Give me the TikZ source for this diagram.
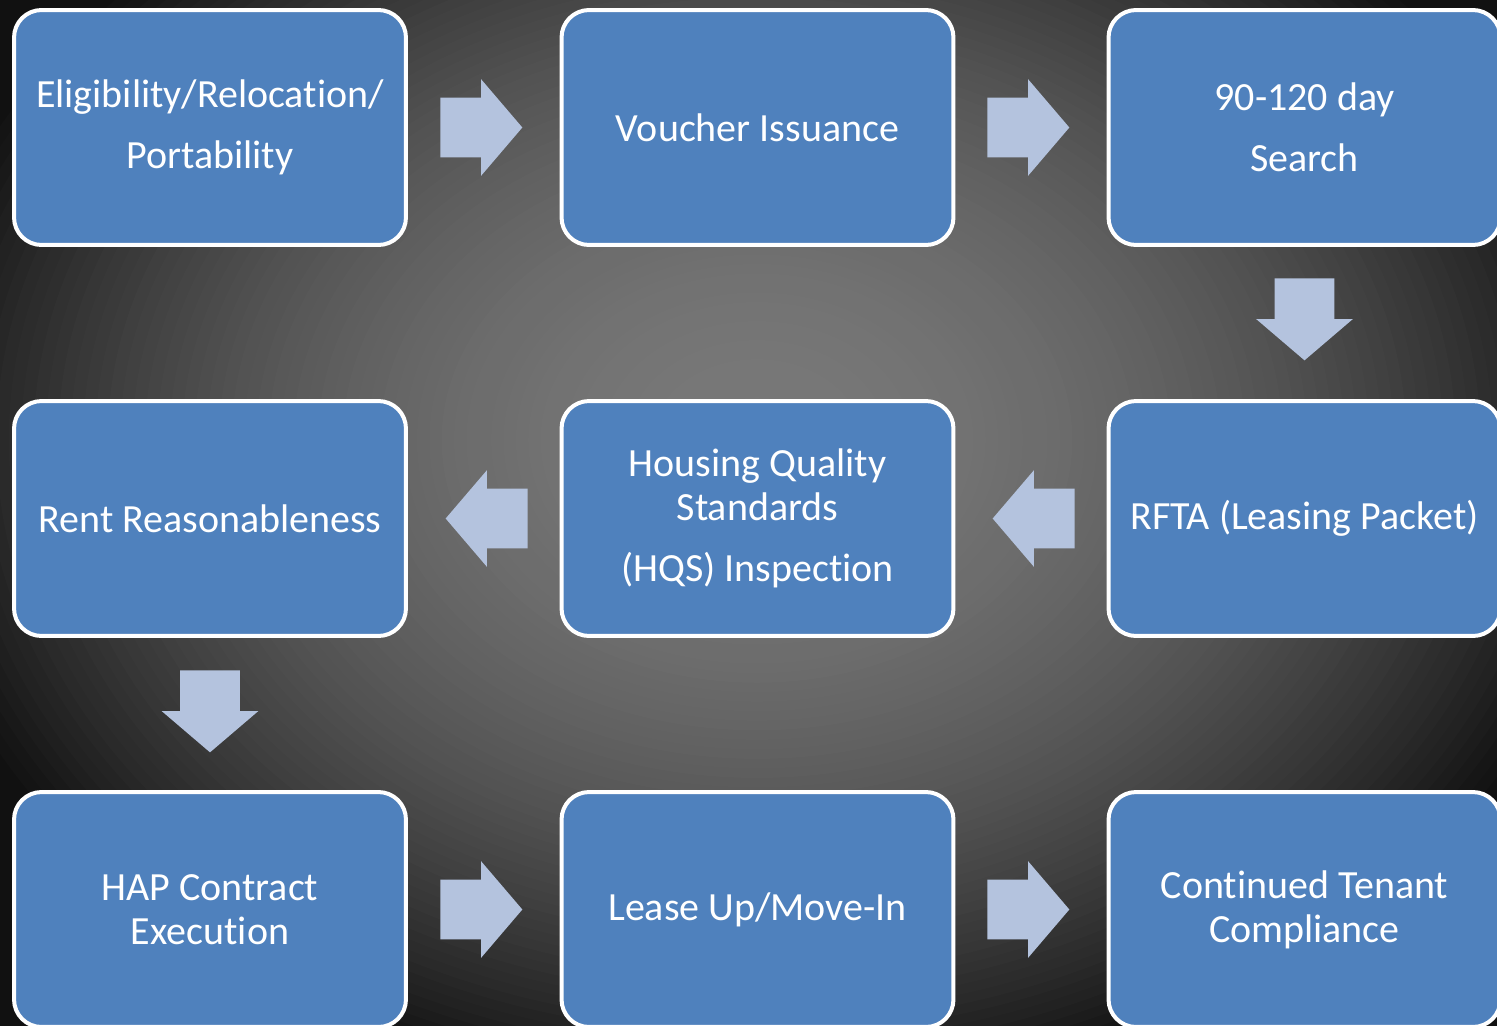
\documentclass[tikz,border=0pt]{standalone}
\usepackage{fontspec}
\setmainfont{Carlito}[Ligatures=NoCommon]
\usetikzlibrary{shapes.arrows}

\definecolor{boxblue}{RGB}{79,129,189}
\definecolor{arrowblue}{RGB}{180,195,222}

\begin{document}
\begin{tikzpicture}[
  x=0.02cm, y=-0.02cm,
  stage/.style={
    draw=white, line width=0.08cm, fill=boxblue,
    rounded corners=0.55cm,
    minimum width=7.84cm, minimum height=4.70cm,
    inner sep=0pt, align=center, text=white,
    font=\fontsize{22.75}{25}\selectfont,
  },
  flow/.style={
    single arrow, fill=arrowblue, draw=none,
    inner xsep=0pt, inner ysep=0.59cm,
    minimum height=1.64cm,
    single arrow head extend=0.37cm,
    single arrow tip angle=99,
    anchor=tail,
  },
  flowdown/.style={
    flow, inner xsep=0.59cm, inner ysep=0pt,
    shape border rotate=270,
  }
]
\useasboundingbox (0,0) rectangle (1497,1025);
\clip (0,0) rectangle (1497,1025);
% dark backdrop, lighter towards the middle
\foreach \i in {90,...,1} {
  \pgfmathsetmacro\r{(\i-0.5)/90*1.45}
  \pgfmathsetmacro\g{max(17,120-80*\r*\r)/255}
  \definecolor{glowtone}{gray}{\g}
  \fill[glowtone] (757,440) ellipse [x radius=760*\r/0.99, y radius=585*\r/0.99];
}

% top row
\node[stage] (elig) at (210,127.5) {Eligibility/Relocation/\\[9.7pt]Portability};
\node[stage] (voucher) at (757.5,127.5) {Voucher Issuance};
\node[stage] (search) at (1304.5,127.5) {90-120 day\\[9.7pt]Search};
% middle row
\node[stage] (rent) at (210,518.5) {Rent Reasonableness};
\node[stage] (hqs) at (757.5,518.5) {Housing Quality\\Standards\\[9.7pt](HQS) Inspection};
\node[stage] (rfta) at (1304.5,518.5) {RFTA (Leasing Packet)};
% bottom row
\node[stage] (hap) at (210,909.5) {HAP Contract\\Execution};
\node[stage] (lease) at (757.5,909.5) {Lease Up/Move-In};
\node[stage] (tenant) at (1304.5,909.5) {Continued Tenant\\Compliance};

% block arrows between the steps (placed by their tails)
\node[flow] (eligtovoucher) at (440,127.5) {};
\node[flow] (vouchertosearch) at (987,127.5) {};
\node[flowdown] (searchtorfta) at (1304.5,278) {};
\node[flow, shape border rotate=180] (rftatohqs) at (1075,518.5) {};
\node[flow, shape border rotate=180] (hqstorent) at (528,518.5) {};
\node[flowdown] (renttohap) at (210,670) {};
\node[flow] (haptolease) at (440,909.5) {};
\node[flow] (leasetotenant) at (987,909.5) {};
\end{tikzpicture}
\end{document}
